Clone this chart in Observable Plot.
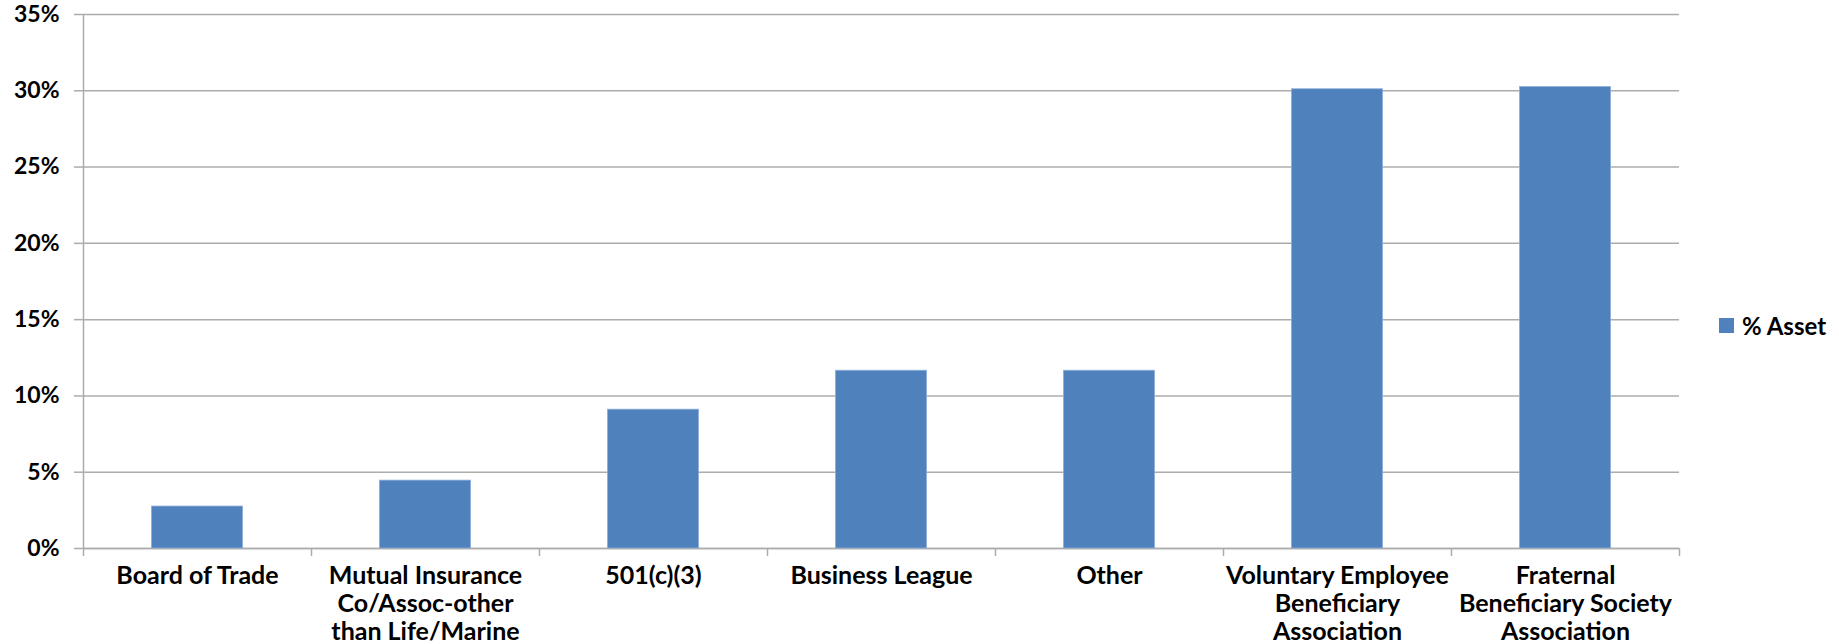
<!DOCTYPE html>
<html>
<head>
<meta charset="utf-8">
<script src="https://cdn.jsdelivr.net/npm/d3@7"></script>
<script src="https://cdn.jsdelivr.net/npm/@observablehq/plot@0.6"></script>
<style>
  html, body { margin: 0; padding: 0; background: #fff; }
  #wrap { position: relative; width: 1839px; height: 644px; }
  #legend { position: absolute; left: 1719px; top: 310px; height: 30px; display: flex; align-items: center; gap: 8px;
            font-family: Lato, sans-serif; font-weight: bold; font-size: 24px; color: #000; }
  #legend .sw { width: 15px; height: 15px; background: #4f81bd; }
</style>
</head>
<body>
<div id="wrap"><div id="legend"><div class="sw"></div><span>% Asset</span></div></div>
<script>
const categories = [
  "Board of Trade",
  "Mutual Insurance\nCo/Assoc-other\nthan Life/Marine",
  "501(c)(3)",
  "Business League",
  "Other",
  "Voluntary Employee\nBeneficiary\nAssociation",
  "Fraternal\nBeneficiary Society\nAssociation"
];
const values = [2.75, 4.45, 9.1, 11.65, 11.65, 30.1, 30.25];
const yTicks = [0, 5, 10, 15, 20, 25, 30, 35];
const seriesName = "% Asset";

const data = categories.map((c, i) => ({category: c, value: values[i], i}));
const boundaries = d3.range(categories.length + 1);
const gray = "#acacac";

const chart = Plot.plot({
  width: 1839,
  height: 644,
  marginLeft: 83,
  marginRight: 160,
  marginTop: 14,
  marginBottom: 96,
  style: {fontFamily: "Lato, sans-serif", fontSize: "25px", fontWeight: "bold", color: "#000", background: "#fff"},
  x: {domain: [0, categories.length], axis: null},
  y: {domain: [0, 35], axis: null},
  marks: [
    Plot.gridY(yTicks, {stroke: gray, strokeOpacity: 1, strokeWidth: 1.5}),
    Plot.axisY({ticks: yTicks, tickFormat: d => d + "%", tickSize: 9, tickPadding: 15, stroke: gray, strokeWidth: 1.5, fill: "#000", fontSize: 23, label: null}),
    Plot.axisX({ticks: boundaries, tickFormat: () => "", tickSize: 8, stroke: gray, strokeWidth: 1.5, label: null}),
    Plot.ruleX([0], {stroke: gray, strokeWidth: 1.5}),
    Plot.ruleY([0], {stroke: gray, strokeWidth: 1.5}),
    Plot.rectY(data, {x1: d => d.i + 0.3, x2: d => d.i + 0.7, y: "value", fill: "#4f81bd", stroke: "#8fb0d8", strokeWidth: 0.8}),
    Plot.text(data, {x: d => d.i + 0.5, frameAnchor: "bottom", text: "category", lineAnchor: "top", dy: 15, lineHeight: 1.13, fontSize: 25, fill: "#000"})
  ]
});
document.getElementById("wrap").prepend(chart);
</script>
</body>
</html>
